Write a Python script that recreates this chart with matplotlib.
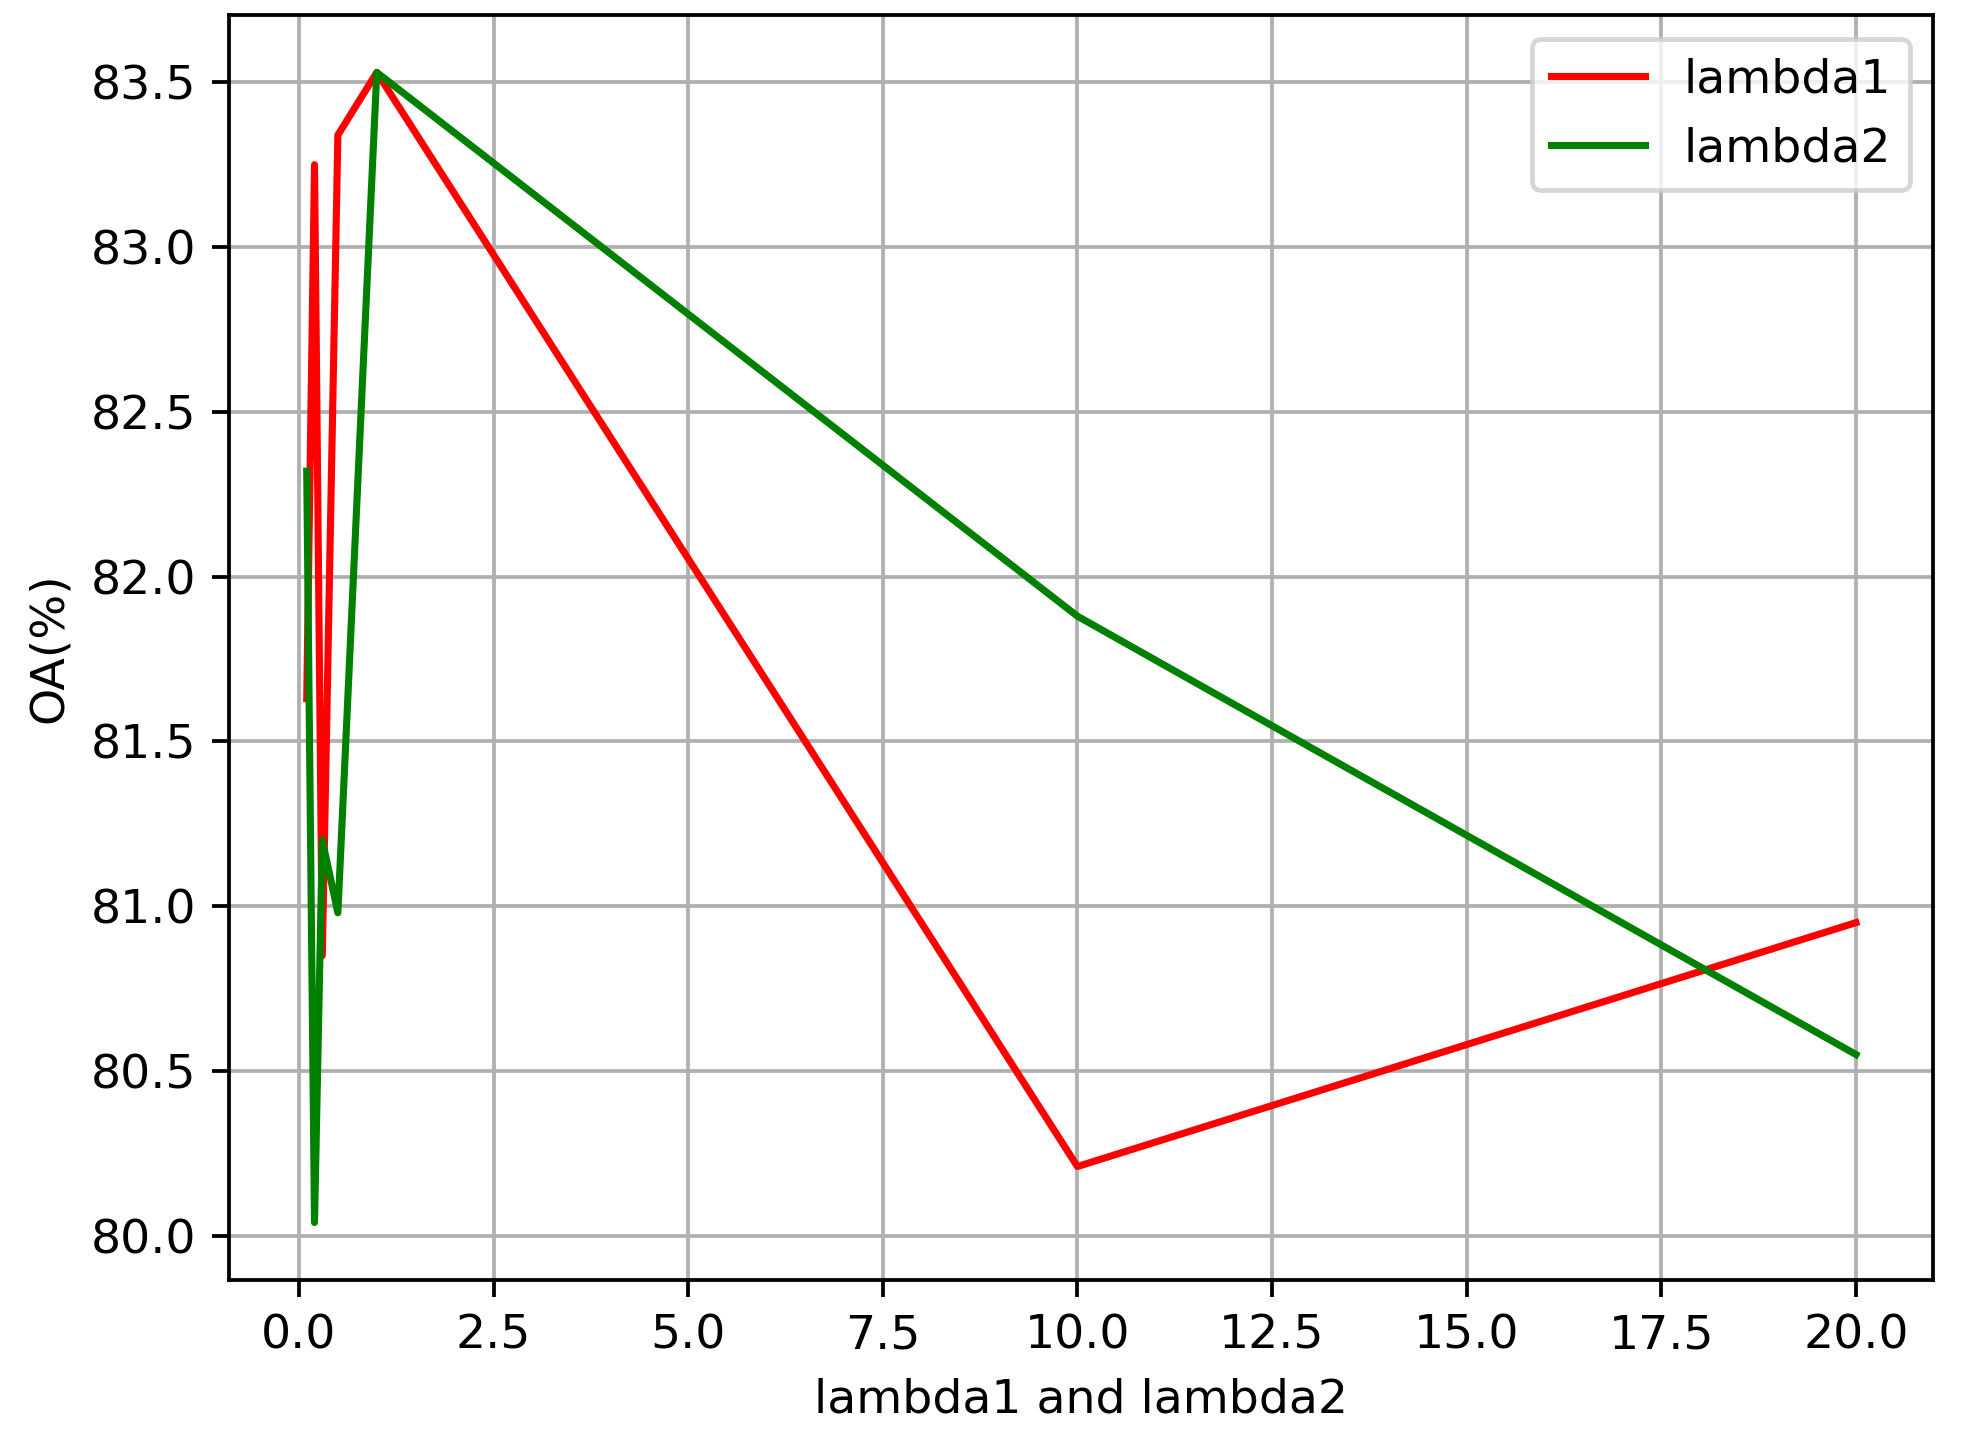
import matplotlib
matplotlib.use("Agg")
import matplotlib.pyplot as plt

# valores dos parametros testados
lambdas = [0.1, 0.2, 0.3, 0.5, 1, 10, 20]
oa_lambda1 = [81.63, 83.25, 80.85, 83.34, 83.53, 80.21, 80.95]
oa_lambda2 = [82.32, 80.04, 81.20, 80.98, 83.53, 81.88, 80.55]

dpi = 341
fig = plt.figure(figsize=(1968 / dpi, 1449 / dpi), dpi=dpi)
ax = fig.add_axes([0.1165, 0.1166, 0.9824 - 0.1165, 0.9897 - 0.1166])

ax.plot(lambdas, oa_lambda1, color="red", label="lambda1")
ax.plot(lambdas, oa_lambda2, color="green", label="lambda2")
ax.set_xlabel("lambda1 and lambda2")
ax.set_ylabel("OA(%)")
ax.grid(True)
ax.legend(loc="upper right")

fig.savefig("out.png", dpi=dpi)
